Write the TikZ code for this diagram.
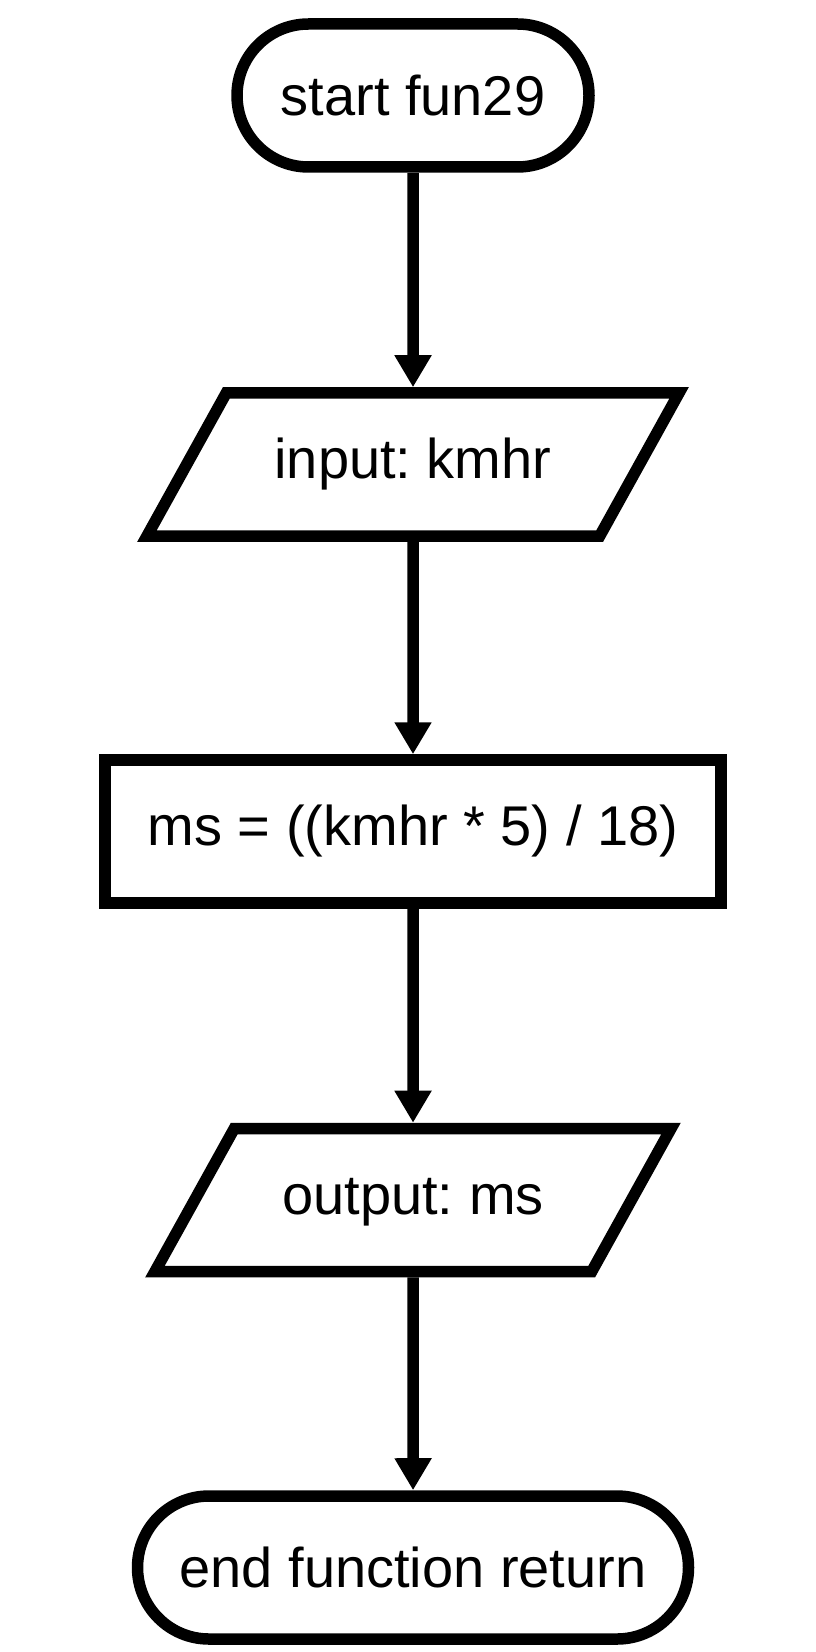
\documentclass[tikz,border=0pt]{standalone}
\usepackage{fontspec}
\setmainfont{Liberation Sans}
\frenchspacing
\usetikzlibrary{shapes.geometric,shapes.misc,arrows.meta}

\tikzset{
	chartnode/.style={draw, black, line width=5.75pt, fill=white,
		font=\fontsize{28}{34}\selectfont, inner sep=0pt},
	terminal/.style={chartnode, rounded rectangle, minimum height=71.5pt},
	inout/.style={chartnode, trapezium, trapezium left angle=61,
		trapezium right angle=119, trapezium stretches body,
		text height=20pt, text depth=6pt, inner ysep=22.75pt},
	process/.style={chartnode, rectangle, minimum height=71.5pt},
	flow/.style={line width=5.75pt, -{Triangle[length=16pt, width=17.5pt]}}
}

\begin{document}
\begin{tikzpicture}[x=0.5pt, y=-0.5pt]
	%% Page frame
	\useasboundingbox (0,0) rectangle (815,1652);

	%% Nodes
	\node [terminal, minimum width=176pt] (start) at (413,95.5) {start fun29};
	\node [inout, minimum width=266pt] (input) at (413,464.5) {input: kmhr};
	\node [process, minimum width=308pt] (calc) at (413,831.5) {ms = ((kmhr * 5) / 18)};
	\node [inout, minimum width=258pt] (output) at (413,1200) {output: ms};
	\node [terminal, minimum width=275.5pt] (stop) at (413,1567.5) {end function return};

	%% Connectors
	\draw [flow] (start) -- (input);
	\draw [flow] (input) -- (calc);
	\draw [flow] (calc) -- (output);
	\draw [flow] (output) -- (stop);
\end{tikzpicture}
\end{document}
